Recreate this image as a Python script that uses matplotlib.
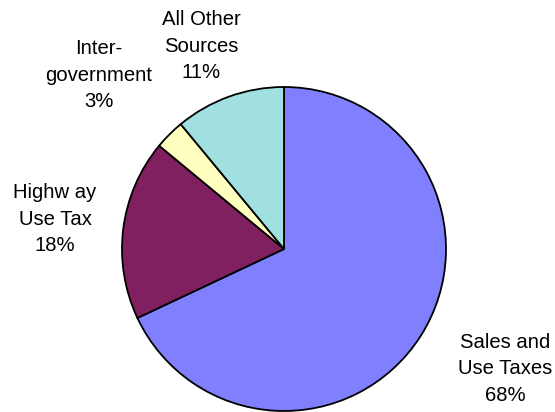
import matplotlib
matplotlib.use("Agg")
import matplotlib.pyplot as plt

plt.rcParams['font.family'] = ['Liberation Sans', 'DejaVu Sans']

# revenue sources, clockwise from 12 o'clock
labels = ["Sales and\nUse Taxes", "Highw ay\nUse Tax", "Inter-\ngovernment", "All Other\nSources"]
shares = [68, 18, 3, 11]
colors = ['#8080FF', '#802060', '#FFFFC0', '#A0E0E0']
# label centres in pixel coords (x, y from bottom)
label_pos = [(505, 43), (55, 193), (99, 337), (201, 366)]

fig = plt.figure(figsize=(5.55, 4.12), dpi=100)
ax = fig.add_axes([0, 0, 1, 1])

ax.pie(shares, colors=colors, startangle=90, counterclock=False,
       center=(284, 163), radius=162,
       wedgeprops=dict(edgecolor='black', linewidth=1.3))

# pie() resets the limits, so set them afterwards
ax.set_xlim(0, 555)
ax.set_ylim(0, 412)
ax.set_aspect('equal')
ax.axis('off')

for lab, val, (x, y) in zip(labels, shares, label_pos):
    ax.text(x, y, "%s\n%d%%" % (lab, val), ha='center', va='center',
            fontsize=14.6, linespacing=1.47, color='black')

fig.savefig("out.png", dpi=100)
